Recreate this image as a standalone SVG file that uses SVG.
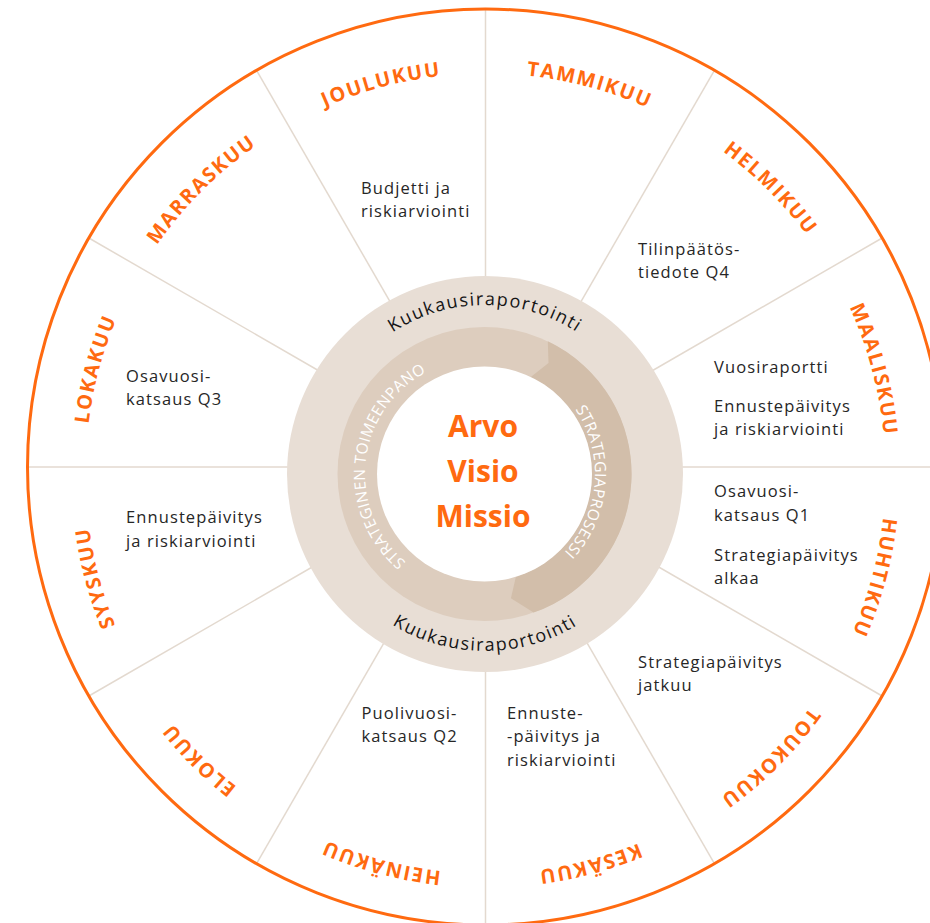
<svg xmlns="http://www.w3.org/2000/svg" width="930" height="923" viewBox="0 0 930 923">
<defs>
<style>
.div{stroke:#E3D9CF;stroke-width:1.5;fill:none}
.month{font-family:"Open Sans","DejaVu Sans",sans-serif;font-weight:700;font-size:20px;letter-spacing:1.7px;fill:#FF6A10}
.body{font-family:"Open Sans","DejaVu Sans",sans-serif;font-size:16.5px;letter-spacing:1.1px;fill:#262626}
.kk{font-family:"Open Sans","DejaVu Sans",sans-serif;font-size:18px;letter-spacing:1.5px;fill:#151515}
.ring{font-family:"Open Sans","DejaVu Sans",sans-serif;font-size:15.5px;letter-spacing:0.4px;fill:#ffffff}
.core{font-family:"Open Sans","DejaVu Sans",sans-serif;font-weight:700;font-size:30px;fill:#FF6A10;text-anchor:middle}
</style>
<path id="monthPath" d="M485.5,73.5 A400,400 0 1 1 485.5,873.5 A400,400 0 1 1 485.5,73.5"/>
<path id="ringPath" d="M480,359 A115,115 0 1 1 480,589 A115,115 0 1 1 480,359"/>
<path id="kkTop" d="M316,474 A169,169 0 0 1 654,474"/>
<path id="kkBot" d="M308,474 A177,177 0 0 0 662,474"/>
</defs>
<rect width="930" height="923" fill="#ffffff"/>
<g id="connectors">
<line class="div" x1="485.5" y1="287" x2="485.5" y2="10"/>
<line class="div" x1="575.5" y1="311.1" x2="714" y2="71.2"/>
<line class="div" x1="641.4" y1="377" x2="881.3" y2="238.5"/>
<line class="div" x1="665.5" y1="467" x2="942.5" y2="467"/>
<line class="div" x1="641.4" y1="557" x2="881.3" y2="695.5"/>
<line class="div" x1="575.5" y1="622.9" x2="714" y2="862.8"/>
<line class="div" x1="485.5" y1="647" x2="485.5" y2="924"/>
<line class="div" x1="395.5" y1="622.9" x2="257" y2="862.8"/>
<line class="div" x1="329.6" y1="557" x2="89.7" y2="695.5"/>
<line class="div" x1="305.5" y1="467" x2="28.5" y2="467"/>
<line class="div" x1="329.6" y1="377" x2="89.7" y2="238.5"/>
<line class="div" x1="395.5" y1="311.1" x2="257" y2="71.2"/>
</g>
<circle id="outer-ring" cx="485.5" cy="467" r="458" fill="none" stroke="#FF6A10" stroke-width="3"/>
<g id="months">
<text class="month"><textPath href="#monthPath" startOffset="4.1667%" text-anchor="middle">TAMMIKUU</textPath></text>
<text class="month"><textPath href="#monthPath" startOffset="12.5%" text-anchor="middle">HELMIKUU</textPath></text>
<text class="month"><textPath href="#monthPath" startOffset="20.833%" text-anchor="middle">MAALISKUU</textPath></text>
<text class="month"><textPath href="#monthPath" startOffset="29.167%" text-anchor="middle">HUHTIKUU</textPath></text>
<text class="month"><textPath href="#monthPath" startOffset="37.5%" text-anchor="middle">TOUKOKUU</textPath></text>
<text class="month"><textPath href="#monthPath" startOffset="45.833%" text-anchor="middle">KESÄKUU</textPath></text>
<text class="month"><textPath href="#monthPath" startOffset="54.167%" text-anchor="middle">HEINÄKUU</textPath></text>
<text class="month"><textPath href="#monthPath" startOffset="62.5%" text-anchor="middle">ELOKUU</textPath></text>
<text class="month"><textPath href="#monthPath" startOffset="70.833%" text-anchor="middle">SYYSKUU</textPath></text>
<text class="month"><textPath href="#monthPath" startOffset="79.167%" text-anchor="middle">LOKAKUU</textPath></text>
<text class="month"><textPath href="#monthPath" startOffset="87.5%" text-anchor="middle">MARRASKUU</textPath></text>
<text class="month"><textPath href="#monthPath" startOffset="95.833%" text-anchor="middle">JOULUKUU</textPath></text>
</g>
<g id="events">
<g id="ev-joulukuu"><text class="body" x="361" y="194">Budjetti ja</text><text class="body" x="361" y="217.3">riskiarviointi</text></g>
<g id="ev-helmikuu"><text class="body" x="638" y="255">Tilinpäätös-</text><text class="body" x="638" y="278">tiedote Q4</text></g>
<g id="ev-maaliskuu"><text class="body" x="714" y="372.7">Vuosiraportti</text><text class="body" x="714" y="411.7">Ennustepäivitys</text><text class="body" x="714" y="435">ja riskiarviointi</text></g>
<g id="ev-huhtikuu"><text class="body" x="714" y="497.3">Osavuosi-</text><text class="body" x="714" y="520.7">katsaus Q1</text><text class="body" x="714" y="560.7">Strategiapäivitys</text><text class="body" x="714" y="584">alkaa</text></g>
<g id="ev-toukokuu"><text class="body" x="638" y="668">Strategiapäivitys</text><text class="body" x="638" y="691.3">jatkuu</text></g>
<g id="ev-kesakuu"><text class="body" x="507" y="719">Ennuste-</text><text class="body" x="507" y="742.3">-päivitys ja</text><text class="body" x="507" y="766">riskiarviointi</text></g>
<g id="ev-heinakuu"><text class="body" x="361.5" y="719">Puolivuosi-</text><text class="body" x="361.5" y="742.3">katsaus Q2</text></g>
<g id="ev-lokakuu"><text class="body" x="126" y="381.7">Osavuosi-</text><text class="body" x="126" y="405">katsaus Q3</text></g>
<g id="ev-syyskuu"><text class="body" x="126" y="523.3">Ennustepäivitys</text><text class="body" x="126" y="546.7">ja riskiarviointi</text></g>
</g>
<g id="hub">
<circle cx="485" cy="474" r="198" fill="#E8DED5"/>
<circle cx="484.5" cy="474" r="147" fill="#DDCDBE"/>
<path d="M547.8,341.3 A147,147 0 0 1 533.6,612.6 L510.9,598.2 L515.9,576.8 A107.5,107.5 0 0 0 530.8,377 L548.5,363.1 Z" fill="#D2BEAA"/>
<circle cx="484.5" cy="474" r="107.5" fill="#ffffff"/>
<text class="kk"><textPath href="#kkTop" startOffset="50%" text-anchor="middle">Kuukausiraportointi</textPath></text>
<text class="kk"><textPath href="#kkBot" startOffset="50%" text-anchor="middle">Kuukausiraportointi</textPath></text>
<text class="ring"><textPath href="#ringPath" startOffset="26.25%" text-anchor="middle">STRATEGIAPROSESSI</textPath></text>
<text class="ring"><textPath href="#ringPath" startOffset="76.7%" text-anchor="middle">STRATEGINEN TOIMEENPANO</textPath></text>
<text class="core" x="483" y="437">Arvo</text>
<text class="core" x="483" y="482">Visio</text>
<text class="core" x="483" y="527">Missio</text>
</g>
</svg>
